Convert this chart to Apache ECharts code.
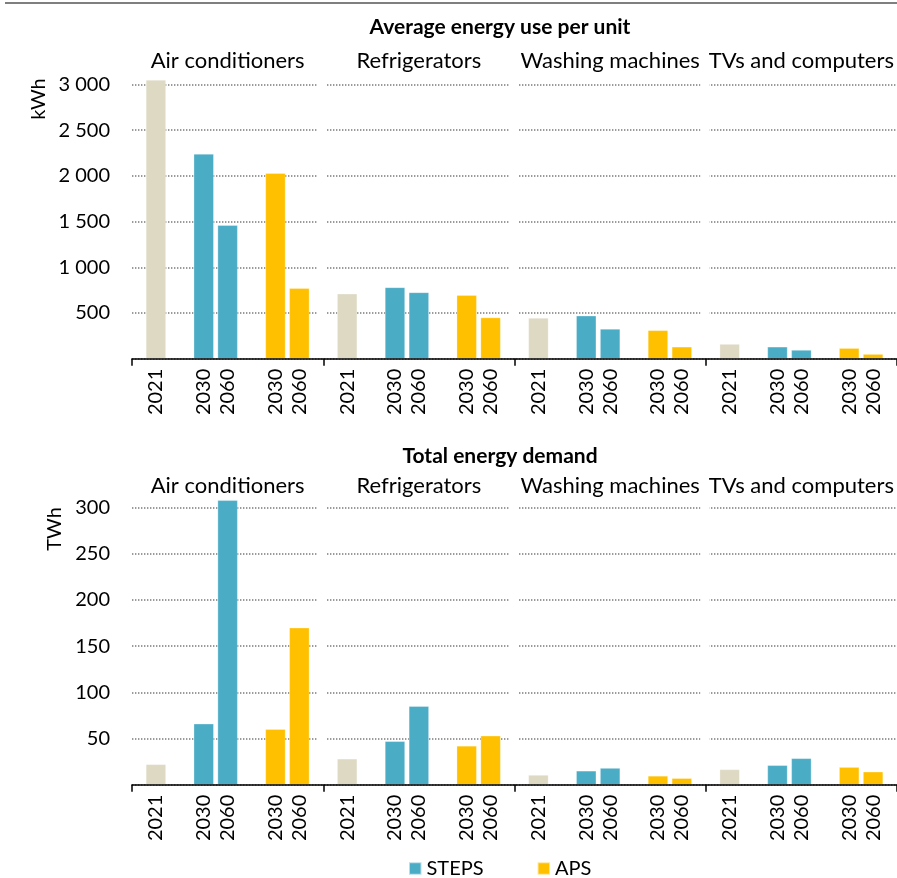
<!DOCTYPE html>
<html><head><meta charset="utf-8">
<script src="https://cdn.jsdelivr.net/npm/echarts@6/dist/echarts.min.js"></script>
<style>html,body{margin:0;padding:0;background:#fff}#c{width:897px;height:878px}</style>
</head><body><div id="c"></div>
<script>
// ---- data ----
const groups = ['Air conditioners', 'Refrigerators', 'Washing machines', 'TVs and computers'];
const yearLabels = ['2021', '2030', '2060', '2030', '2060'];
const slotOffsets = [1, 3, 4, 6, 7]; // slot of each bar inside a group of 8 slots

// Average energy use per unit (kWh)
const unit2021 = [3050, 710, 445, 160];
const unitSteps2030 = [2240, 780, 470, 130];
const unitSteps2060 = [1460, 725, 325, 95];
const unitAps2030 = [2030, 695, 310, 115];
const unitAps2060 = [770, 450, 130, 50];

// Total energy demand (TWh)
const total2021 = [22, 28, 10.5, 16.5];
const totalSteps2030 = [66, 47, 15, 21];
const totalSteps2060 = [308, 85, 18, 28.5];
const totalAps2030 = [60, 42, 9.5, 19];
const totalAps2060 = [170, 53, 7, 14];

// ---- helpers ----
const FONT = 'Lato';
const C_BASE = '#DDD9C3', C_STEPS = '#4BACC6', C_APS = '#FFC000';
const fmt = v => String(v).replace(/\B(?=(\d{3})+(?!\d))/g, ' ');
const pos = (g, k) => 8 * g + slotOffsets[k];
function pts(arr, k) { return arr.map((v, g) => [pos(g, k), v]); }
const labelPositions = [];
groups.forEach((_, g) => slotOffsets.forEach((_, k) => labelPositions.push(pos(g, k))));
const groupCenters = groups.map((_, g) => 8 * g + 4);

function xBottom(gi) {
  return {
    type: 'value', gridIndex: gi, min: 0, max: 32, position: 'bottom', z: 5,
    axisLine: { show: true, onZero: false, lineStyle: { color: '#000', width: 1.5 } },
    axisTick: { show: true, customValues: [0, 8, 16, 24, 32], length: 7, lineStyle: { color: '#000', width: 1.5 } },
    splitLine: { show: false },
    axisLabel: {
      customValues: labelPositions, rotate: 90, margin: 10,
      fontFamily: FONT, fontSize: 20, color: '#000',
      formatter: v => yearLabels[slotOffsets.indexOf(v % 8)]
    }
  };
}
function xTop(gi, margin) {
  return {
    type: 'value', gridIndex: gi, min: 0, max: 32, position: 'top',
    axisLine: { show: false }, axisTick: { show: false }, splitLine: { show: false },
    axisLabel: {
      customValues: groupCenters, margin: margin, fontFamily: FONT, fontSize: 22, color: '#000',
      formatter: v => groups[(v - 4) / 8]
    }
  };
}
function yAx(gi, max, interval) {
  return {
    type: 'value', gridIndex: gi, min: 0, max: max, interval: interval, z: 0,
    axisLine: { show: false }, axisTick: { show: false },
    splitLine: { show: true, lineStyle: { color: '#7a7a7a', width: 1.5, type: [1.4, 1.6] } },
    axisLabel: { showMinLabel: false, margin: 22, fontFamily: FONT, fontSize: 20, color: '#000', formatter: fmt }
  };
}
function bars(name, color, data, xi, yi) {
  return {
    type: 'bar', name: name, xAxisIndex: xi, yAxisIndex: yi, data: data,
    barWidth: 20, stack: 'p' + yi, clip: false, z: 3,
    itemStyle: { color: color, borderColor: 'rgba(255,255,255,0.6)', borderWidth: 0.5 },
    animation: false
  };
}

const staticGraphics = [
  { type: 'rect', left: 5, top: 2, shape: { width: 892, height: 2 }, style: { fill: '#7f7f7f' } },
  { type: 'text', x: 500, y: 27, style: { text: 'Average energy use per unit', font: 'bold 21px ' + FONT, fill: '#000', align: 'center', verticalAlign: 'middle' } },
  { type: 'text', x: 500, y: 456, style: { text: 'Total energy demand', font: 'bold 21px ' + FONT, fill: '#000', align: 'center', verticalAlign: 'middle' } },
  { type: 'text', x: 39, y: 99, rotation: Math.PI / 2, style: { text: 'kWh', font: '20px ' + FONT, fill: '#000', align: 'center', verticalAlign: 'middle' } },
  { type: 'text', x: 55, y: 529, rotation: Math.PI / 2, style: { text: 'TWh', font: '20px ' + FONT, fill: '#000', align: 'center', verticalAlign: 'middle' } }
];

const chart = echarts.init(document.getElementById('c'), null, { renderer: 'canvas' });
chart.setOption({
  animation: false,
  textStyle: { fontFamily: FONT },
  grid: [
    { left: 132, top: 84.5, width: 767.5, height: 274.2 },
    { left: 132, top: 507.7, width: 767.5, height: 277 }
  ],
  xAxis: [xBottom(0), xTop(0, 13), xBottom(1), xTop(1, 10.5)],
  yAxis: [yAx(0, 3000, 500), yAx(1, 300, 50)],
  legend: {
    data: ['STEPS', 'APS'], left: 408, top: 858.5, padding: 0, icon: 'rect',
    itemWidth: 12.5, itemHeight: 12.5, itemGap: 53,
    textStyle: { fontFamily: FONT, fontSize: 20, color: '#000' }
  },
  graphic: staticGraphics,
  series: [
    bars('2021', C_BASE, pts(unit2021, 0), 0, 0),
    bars('STEPS', C_STEPS, pts(unitSteps2030, 1).concat(pts(unitSteps2060, 2)), 0, 0),
    bars('APS', C_APS, pts(unitAps2030, 3).concat(pts(unitAps2060, 4)), 0, 0),
    bars('2021', C_BASE, pts(total2021, 0), 2, 1),
    bars('STEPS', C_STEPS, pts(totalSteps2030, 1).concat(pts(totalSteps2060, 2)), 2, 1),
    bars('APS', C_APS, pts(totalAps2030, 3).concat(pts(totalAps2060, 4)), 2, 1)
  ]
});

// small white gaps in the dotted gridlines at group boundaries (placed through the chart's scales)
const gaps = [];
[[0, 0, 3000], [2, 1, 300]].forEach(([xi, yi, top]) => {
  [8, 16, 24].forEach(b => {
    const p1 = chart.convertToPixel({ xAxisIndex: xi, yAxisIndex: yi }, [b - 0.22, top]);
    const p2 = chart.convertToPixel({ xAxisIndex: xi, yAxisIndex: yi }, [b + 0.15, 0]);
    gaps.push({
      type: 'rect', z: 1, silent: true,
      shape: { x: p1[0], y: p1[1] - 3, width: p2[0] - p1[0], height: p2[1] - p1[1] - 1 },
      style: { fill: '#fff' }
    });
  });
});
chart.setOption({ graphic: staticGraphics.concat(gaps) });
</script></body></html>
